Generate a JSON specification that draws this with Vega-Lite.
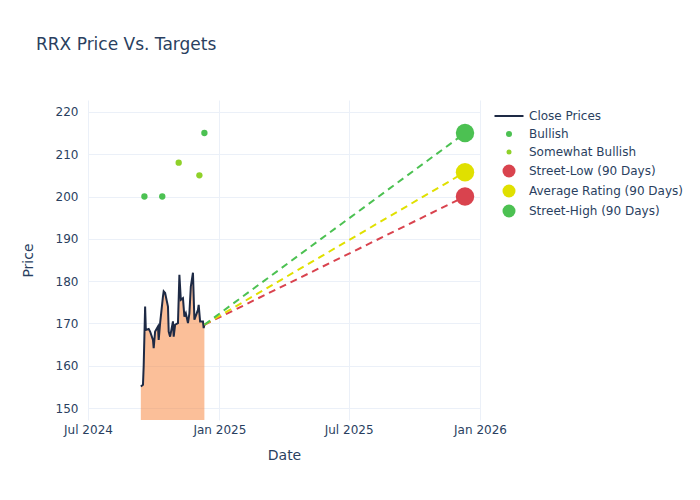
{
  "$schema": "https://vega.github.io/schema/vega-lite/v6.json",
  "width": 392,
  "height": 320,
  "autosize": {"type": "none"},
  "padding": {"left": 88, "top": 100, "right": 220, "bottom": 80},
  "background": "white",
  "title": {
    "text": "RRX Price Vs. Targets",
    "anchor": "start",
    "frame": "group",
    "dx": -52,
    "offset": 38,
    "baseline": "middle",
    "font": "DejaVu Sans",
    "fontSize": 17,
    "fontWeight": "normal",
    "color": "#2a3f5f"
  },
  "config": {
    "view": {"stroke": null},
    "font": "DejaVu Sans",
    "axis": {
      "gridColor": "#ebf0f8",
      "gridWidth": 1,
      "domain": false,
      "ticks": false,
      "labelColor": "#2a3f5f",
      "labelFontSize": 12,
      "labelFont": "DejaVu Sans",
      "titleColor": "#2a3f5f",
      "titleFontSize": 14,
      "titleFont": "DejaVu Sans",
      "titleFontWeight": "normal",
      "labelFlush": false,
      "labelOverlap": false
    },
    "legend": {
      "labelColor": "#2a3f5f",
      "labelFontSize": 12,
      "labelFont": "DejaVu Sans"
    }
  },
  "datasets": {
    "prices": [
      {"date": "2024-09-13", "price": 155.1},
      {"date": "2024-09-16", "price": 155.5},
      {"date": "2024-09-17", "price": 160.0},
      {"date": "2024-09-19", "price": 174.0},
      {"date": "2024-09-20", "price": 168.5},
      {"date": "2024-09-24", "price": 168.7},
      {"date": "2024-09-26", "price": 168.1},
      {"date": "2024-09-30", "price": 166.1},
      {"date": "2024-10-01", "price": 164.2},
      {"date": "2024-10-03", "price": 168.1},
      {"date": "2024-10-07", "price": 169.3},
      {"date": "2024-10-08", "price": 166.1},
      {"date": "2024-10-10", "price": 170.1},
      {"date": "2024-10-14", "price": 176.4},
      {"date": "2024-10-15", "price": 177.6},
      {"date": "2024-10-17", "price": 177.2},
      {"date": "2024-10-21", "price": 174.0},
      {"date": "2024-10-22", "price": 168.1},
      {"date": "2024-10-24", "price": 166.9},
      {"date": "2024-10-28", "price": 170.5},
      {"date": "2024-10-29", "price": 166.9},
      {"date": "2024-10-31", "price": 169.7},
      {"date": "2024-11-04", "price": 170.1},
      {"date": "2024-11-06", "price": 181.5},
      {"date": "2024-11-08", "price": 175.6},
      {"date": "2024-11-11", "price": 176.0},
      {"date": "2024-11-13", "price": 171.6},
      {"date": "2024-11-15", "price": 172.4},
      {"date": "2024-11-18", "price": 170.1},
      {"date": "2024-11-20", "price": 172.4},
      {"date": "2024-11-22", "price": 178.7},
      {"date": "2024-11-25", "price": 182.0},
      {"date": "2024-11-27", "price": 170.9},
      {"date": "2024-12-02", "price": 173.2},
      {"date": "2024-12-03", "price": 174.4},
      {"date": "2024-12-05", "price": 170.5},
      {"date": "2024-12-09", "price": 170.5},
      {"date": "2024-12-10", "price": 168.9},
      {"date": "2024-12-11", "price": 169.7}
    ],
    "ratings": [
      {"date": "2024-09-18", "price": 200, "series": "Bullish"},
      {"date": "2024-10-13", "price": 200, "series": "Bullish"},
      {"date": "2024-11-05", "price": 208, "series": "Somewhat Bullish"},
      {"date": "2024-12-04", "price": 205, "series": "Somewhat Bullish"},
      {"date": "2024-12-11", "price": 215, "series": "Bullish"}
    ],
    "targets": [
      {"date": "2025-12-11", "price": 200, "series": "Street-Low (90 Days)"},
      {"date": "2025-12-11", "price": 205.75, "series": "Average Rating (90 Days)"},
      {"date": "2025-12-11", "price": 215, "series": "Street-High (90 Days)"}
    ],
    "projections": [
      {"date": "2024-12-11", "price": 169.7, "series": "Street-Low (90 Days)"},
      {"date": "2025-12-11", "price": 200, "series": "Street-Low (90 Days)"},
      {"date": "2024-12-11", "price": 169.7, "series": "Average Rating (90 Days)"},
      {"date": "2025-12-11", "price": 205.75, "series": "Average Rating (90 Days)"},
      {"date": "2024-12-11", "price": 169.7, "series": "Street-High (90 Days)"},
      {"date": "2025-12-11", "price": 215, "series": "Street-High (90 Days)"}
    ]
  },
  "encoding": {
    "x": {
      "field": "date",
      "type": "temporal",
      "title": "Date",
      "scale": {"domain": [{"year": 2024, "month": 7, "date": 1}, {"year": 2026, "month": 1, "date": 1}]},
      "axis": {
        "values": [
          {"year": 2024, "month": 7, "date": 1},
          {"year": 2025, "month": 1, "date": 1},
          {"year": 2025, "month": 7, "date": 1},
          {"year": 2026, "month": 1, "date": 1}
        ],
        "format": "%b %Y",
        "labelPadding": 4,
        "titlePadding": 13
      }
    },
    "y": {
      "field": "price",
      "type": "quantitative",
      "title": "Price",
      "scale": {"domain": [147.2, 222.8], "nice": false, "zero": false},
      "axis": {
        "values": [150, 160, 170, 180, 190, 200, 210, 220],
        "labelPadding": 10,
        "titlePadding": 20
      }
    }
  },
  "layer": [
    {
      "data": {"name": "prices"},
      "mark": {"type": "area", "color": "#f77f33", "opacity": 0.5, "clip": true}
    },
    {
      "data": {"name": "prices"},
      "transform": [{"calculate": "'Close Prices'", "as": "series"}],
      "mark": {"type": "line", "strokeWidth": 2},
      "encoding": {
        "color": {
          "field": "series",
          "type": "nominal",
          "scale": {
            "domain": ["Close Prices", "Bullish", "Somewhat Bullish", "Street-Low (90 Days)", "Average Rating (90 Days)", "Street-High (90 Days)"],
            "range": ["#1e2a45", "#4cc152", "#8fd129", "#d9434e", "#e0e000", "#4cc152"]
          },
          "legend": {
            "title": null,
            "orient": "none",
            "legendX": 415,
            "legendY": 10,
            "symbolSize": 256,
            "labelOffset": 14,
            "rowPadding": 6,
            "encode": {
              "symbols": {
                "update": {
                  "shape": {"signal": "datum.value === 'Close Prices' ? 'stroke' : 'circle'"},
                  "size": {"signal": "datum.value === 'Close Prices' ? 841 : datum.value === 'Bullish' ? 36 : datum.value === 'Somewhat Bullish' ? 25 : 169"},
                  "fill": {"signal": "datum.value === 'Close Prices' ? 'transparent' : scale('color', datum.value)"},
                  "stroke": {"signal": "scale('color', datum.value)"},
                  "strokeWidth": {"signal": "datum.value === 'Close Prices' ? 2 : 0"},
                  "opacity": {"value": 1}
                }
              }
            }
          }
        }
      }
    },
    {
      "data": {"name": "projections"},
      "mark": {"type": "line", "strokeWidth": 2, "strokeDash": [7, 5]},
      "encoding": {
        "color": {"field": "series", "type": "nominal"}
      }
    },
    {
      "data": {"name": "ratings"},
      "mark": {"type": "point", "filled": true, "opacity": 1, "size": 40},
      "encoding": {
        "color": {"field": "series", "type": "nominal"}
      }
    },
    {
      "data": {"name": "targets"},
      "mark": {"type": "point", "filled": true, "opacity": 1, "size": 340},
      "encoding": {
        "color": {"field": "series", "type": "nominal"}
      }
    }
  ]
}
